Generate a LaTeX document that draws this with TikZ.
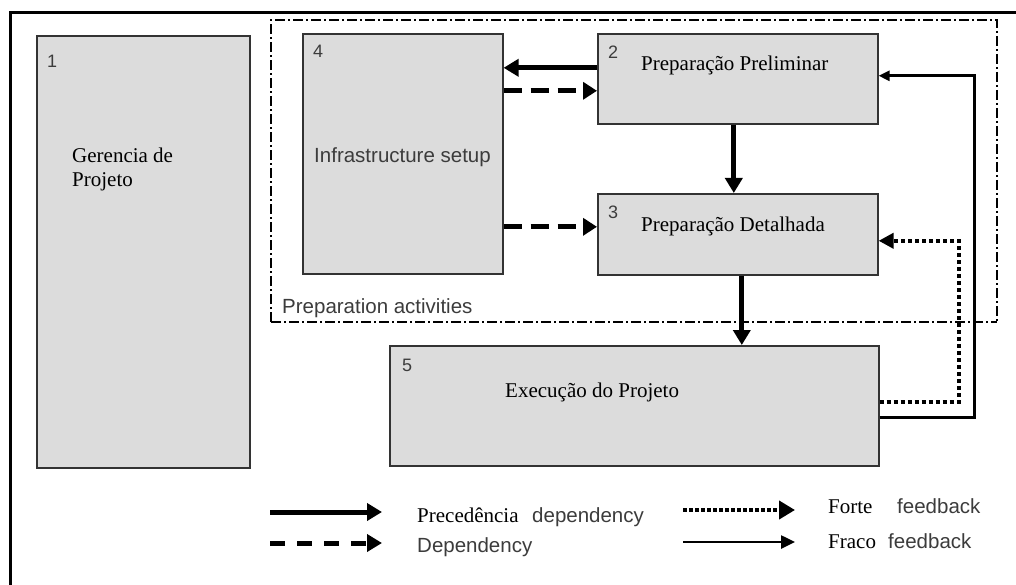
\documentclass[tikz,border=0pt]{standalone}
\usepackage{fontspec}
\setmainfont{Liberation Serif}
\setsansfont{Liberation Sans}
\usetikzlibrary{arrows.meta,calc}
\definecolor{boxfill}{HTML}{DCDCDC}
\definecolor{boxline}{HTML}{333333}
\definecolor{sanstext}{HTML}{3C3C3C}
\begin{document}
\begin{tikzpicture}[x=1pt,y=-1pt,
  box/.style={draw=boxline,line width=1.6pt,fill=boxfill,inner sep=0pt,anchor=north west},
  num/.style={font=\sffamily\fontsize{18}{18}\selectfont,text=sanstext,anchor=north west,inner sep=0pt},
  title/.style={font=\fontsize{21}{24}\selectfont,anchor=base west,inner sep=0pt},
  sanslabel/.style={font=\sffamily\fontsize{20.5}{24}\selectfont,text=sanstext,anchor=base west,inner sep=0pt},
  prec/.style={line width=5pt,-{Triangle[length=15pt,width=17pt]}},
  depend/.style={line width=5pt,dash pattern=on 18pt off 9pt,-{Triangle[length=14pt,width=17pt]}},
  strong/.style={line width=4pt,dash pattern=on 4pt off 3pt,-{Triangle[length=15pt,width=15pt]}},
  weak/.style={line width=3pt,-{Triangle[length=11pt,width=10pt]}},
  prepframe/.style={line width=1.5pt,dash pattern=on 10pt off 3pt on 2pt off 3pt}]
\useasboundingbox (0,0) rectangle (1016,585);
\fill[white] (0,0) rectangle (1016,585);

% outer frame (top and left edges)
\draw[line width=3pt] (10,585) -- (10,13) -- (1016,13);

% preparation activities group
\draw[prepframe] (271,322) -- (271,20) -- (997,20) -- (997,322);
\draw[prepframe,line width=2.5pt] (271,322) -- (997,322);
\node[sanslabel] (prep) at (282,313) {Preparation activities};

% activity boxes
\node[box,minimum width=213pt,minimum height=432pt] (b1) at (36,35) {};
\node[box,minimum width=200pt,minimum height=240pt] (b4) at (302,33) {};
\node[box,minimum width=280pt,minimum height=90pt] (b2) at (597,33) {};
\node[box,minimum width=280pt,minimum height=81pt] (b3) at (597,193) {};
\node[box,minimum width=489pt,minimum height=120pt] (b5) at (389,345) {};

% box numbers
\node[num] (n1) at (47,55) {1};
\node[num] (n2) at (608,46) {2};
\node[num] (n3) at (608,206) {3};
\node[num] (n4) at (313,45) {4};
\node[num] (n5) at (402,359) {5};

% box titles
\node[title,align=left] (t1) at (72,187) {Gerencia de\\Projeto};
\node[title] (t2) at (641,71) {Preparação Preliminar};
\node[title] (t3) at (641,232) {Preparação Detalhada};
\node[sanslabel] (t4) at (314,163) {Infrastructure setup};
\node[title] (t5) at (505,397) {Execução do Projeto};

% dependencies between activities
\draw[prec] ([yshift=11pt]b2.west) -- ([yshift=11pt]b2.west -| b4.east);
\draw[depend] ([yshift=-12pt]b2.west -| b4.east) -- ([yshift=-12pt]b2.west);
\draw[depend] ([yshift=7.5pt]b3.west -| b4.east) -- ([yshift=7.5pt]b3.west);
\draw[prec] ([xshift=-4pt]b2.south) -- ([xshift=-4pt]b3.north);
\draw[prec] ([xshift=4pt]b3.south) -- ([xshift=4pt]b3.south |- b5.north);

% feedback loops
\draw[weak] ([yshift=-12pt]b5.east) -| ([xshift=96pt,yshift=3pt]b2.east) -- ([yshift=3pt]b2.east);
\draw[strong] ([yshift=4pt]b5.east) -| ([xshift=80pt,yshift=-6.5pt]b3.east) -- ([yshift=-6.5pt]b3.east);

% legend
\coordinate (l1a) at (270,512); \coordinate (l1b) at (382,512);
\coordinate (l2a) at (270,543); \coordinate (l2b) at (382,543);
\coordinate (l3a) at (683,510); \coordinate (l3b) at (795,510);
\coordinate (l4a) at (683,542); \coordinate (l4b) at (795,542);
\draw[line width=5pt,-{Triangle[length=15pt,width=17pt]}] (l1a) -- (l1b);
\draw[line width=5pt,dash pattern=on 15pt off 12pt,-{Triangle[length=15pt,width=17pt]}] (l2a) -- (l2b);
\draw[line width=4pt,dash pattern=on 4pt off 2pt,-{Triangle[length=16pt,width=18pt]}] (l3a) -- (l3b);
\draw[line width=2.5pt,-{Triangle[length=14pt,width=13pt]}] (l4a) -- (l4b);
\node[title] (lg1) at (417,522) {Precedência};
\node[sanslabel] (lg1b) at (532,522) {dependency};
\node[sanslabel] (lg2) at (417,552) {Dependency};
\node[title] (lg3) at (828,513) {Forte};
\node[sanslabel] (lg3b) at (897,513) {feedback};
\node[title] (lg4) at (828,548) {Fraco};
\node[sanslabel] (lg4b) at (888,548) {feedback};
\end{tikzpicture}
\end{document}
